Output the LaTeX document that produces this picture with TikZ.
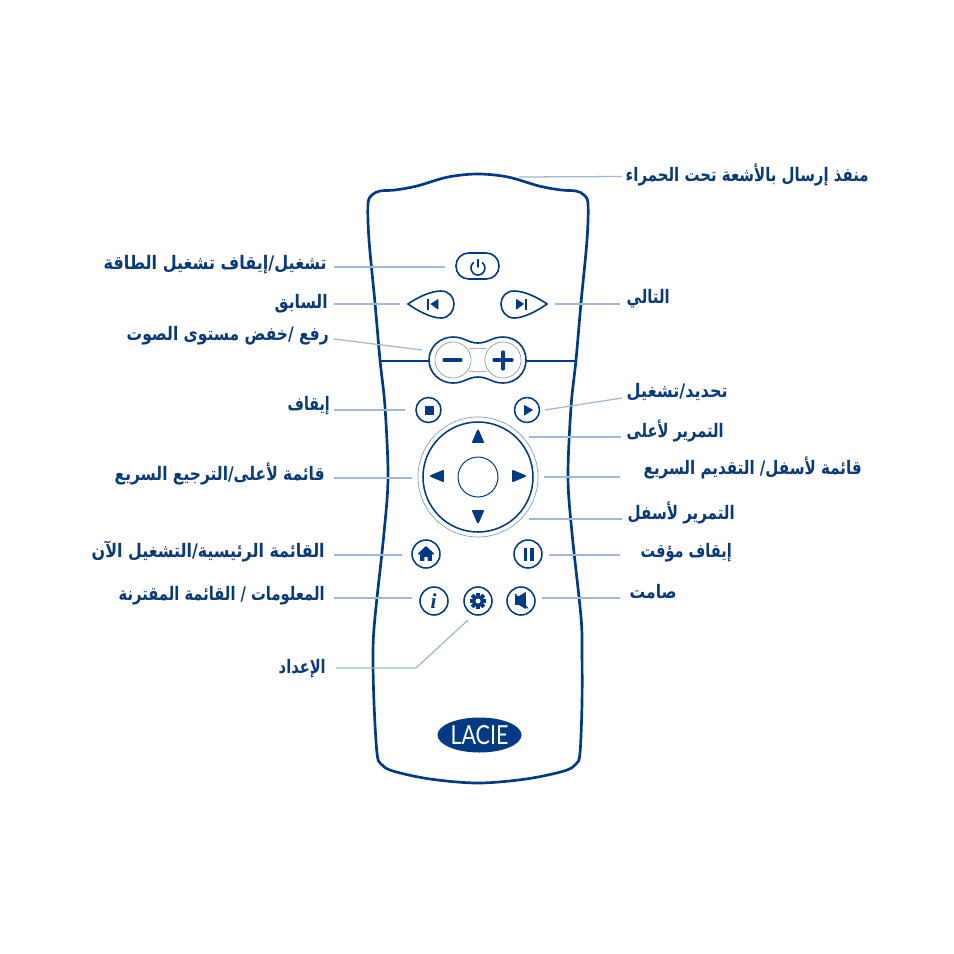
\documentclass[tikz,border=0pt]{standalone}
\usepackage{fontspec}
\usepackage{graphicx}
\usetikzlibrary{shapes.geometric}
\TeXXeTstate=1
\newfontfamily\arabicfont[Script=Arabic]{DejaVu Sans}
\newfontfamily\logofont{Lato}
\newfontfamily\infofont{Liberation Serif}
\definecolor{navy}{HTML}{003A84}
\definecolor{ink}{HTML}{0B3A7C}
\definecolor{leadc}{HTML}{A3B7D6}
\newlength{\upx}\setlength{\upx}{0.75pt}
\newcommand{\arlab}[5]{\node[lab] (#1) at (#2,#3) {\resizebox{#4\upx}{\height}{\arabicfont\bfseries #5}};}
\tikzset{
  x=0.75pt,y=-0.75pt,
  lab/.style={anchor=base east,inner sep=0pt,text=ink,font=\fontsize{14}{16}\selectfont},
  leader/.style={draw=leadc,line width=0.95pt},
  btn/.style={circle,draw=navy,line width=1.15pt,fill=white,inner sep=0pt},
  outlinec/.style={draw=navy,line width=1.2pt},
  body/.style={draw=navy,line width=2pt},
  thinring/.style={draw=navy!55!white,line width=0.45pt},
  glyph/.style={fill=navy,draw=navy,line width=0.5pt,line join=round},
}
\begin{document}
\begin{tikzpicture}
\path[fill=white] (0,0) rectangle (954,954);
\useasboundingbox (0,0) rectangle (954,954);

% remote body
\draw[body] plot[smooth cycle,tension=0.55] coordinates {
 (478,174)(448,177)(417,186)(395,190)(380,191)(372,195)(368,204)(369,240)(375,303)(380,360)(385,407)(388,477)(384,533)(375,617)(373,653)(374,703)(377,753)(381,764)(393,771)(430,779)(478,783)(526,779)(564,771)(576,764)(580,753)(582,703)(582,653)(581,617)(572,533)(568,477)(571,407)(576,360)(581,303)(587,240)(588,204)(584,195)(576,191)(561,190)(539,186)(508,177)};
\draw[outlinec,line width=1.5pt] (380,360.5) -- (429,360.5);
\draw[outlinec,line width=1.5pt] (526,360.5) -- (577,360.5);

% power
\node[rectangle,rounded corners=9.5pt,draw=navy,line width=1.2pt,minimum width=43\upx,minimum height=26\upx,inner sep=0pt] (bpower) at (477.5,266) {};
\draw[outlinec,line cap=round] (482.4,262.7) arc[start angle=-50,end angle=230,radius=7];
\draw[outlinec,line cap=round] (478,259.5) -- (478,267);

% previous / next
\draw[outlinec] (408,304) .. controls (418,297) and (431,291) .. (441,291) .. controls (449,291) and (454,297) .. (454,304) .. controls (454,311) and (449,318) .. (441,318) .. controls (431,318) and (418,311) .. (408,304) -- cycle;
\draw[outlinec] (547,304) .. controls (537,297) and (524,291) .. (514,291) .. controls (506,291) and (501,297) .. (501,304) .. controls (501,311) and (506,318) .. (514,318) .. controls (524,318) and (537,311) .. (547,304) -- cycle;
\fill[navy] (427.2,299) rectangle (429.2,309.5);
\path[glyph] (431,304) -- (438,299.5) -- (438,309) -- cycle;
\path[glyph] (523.5,304) -- (516.5,299.5) -- (516.5,309) -- cycle;
\fill[navy] (525.3,299) rectangle (527.3,309.5);

% volume
\draw[outlinec] (429,360) .. controls (429,347) and (440,337) .. (453,337) .. controls (464,337) and (468,343) .. (478,343) .. controls (488,343) and (492,337) .. (503,337) .. controls (516,337) and (526,347) .. (526,360) .. controls (526,373) and (516,383) .. (503,383) .. controls (492,383) and (488,377) .. (478,377) .. controls (468,377) and (464,383) .. (453,383) .. controls (440,383) and (429,373) .. (429,360) -- cycle;
\node[circle,thinring,minimum size=36\upx,inner sep=0pt] (bminus) at (453,360) {};
\node[circle,thinring,minimum size=36\upx,inner sep=0pt] (bplus) at (503,360) {};
\draw[thinring] (469,349) .. controls (473,348) and (483,348) .. (487,349);
\draw[thinring] (469,371) .. controls (473,372) and (483,372) .. (487,371);
\draw[navy,line width=2.5pt,line cap=round] (444,360) -- (461,360);
\draw[navy,line width=2.5pt,line cap=round] (494,360) -- (512,360);
\draw[navy,line width=2.5pt,line cap=round] (503,352) -- (503,369);

% stop / play
\node[btn,minimum size=25\upx] (bstop) at (428.5,410) {};
\fill[navy] (425,406) rectangle (434,415);
\node[btn,minimum size=25\upx] (bplay) at (527,410) {};
\path[glyph] (524.5,405.5) -- (532.5,410) -- (524.5,415) -- cycle;

% d-pad
\node[circle,draw=navy!50!white,line width=0.5pt,minimum size=120\upx,inner sep=0pt] (dpadout) at (478,477) {};
\node[btn,minimum size=110\upx] (dpad) at (478,477) {};
\node[circle,draw=navy,line width=0.75pt,minimum size=40\upx,inner sep=0pt] (dok) at (478,477) {};
\path[glyph,line width=1.4pt] (478,430.5) -- (483,442) -- (473,442) -- cycle;
\path[glyph,line width=1.4pt] (478,522.5) -- (483,511) -- (473,511) -- cycle;
\path[glyph,line width=1.4pt] (431,476) -- (443,471) -- (443,481) -- cycle;
\path[glyph,line width=1.4pt] (525,476) -- (513,471) -- (513,481) -- cycle;

% home / pause
\node[btn,minimum size=28\upx] (bhome) at (426,554) {};
\path[glyph] (426,546.5) -- (434,554) -- (431.5,554) -- (431.5,560.5) -- (428,560.5) -- (428,556.5) -- (424,556.5) -- (424,560.5) -- (420.5,560.5) -- (420.5,554) -- (418,554) -- cycle;
\node[btn,minimum size=28\upx] (bpause) at (528,554) {};
\fill[navy] (523.5,548) rectangle (527,561);
\fill[navy] (530,548) rectangle (533.5,561);

% info / setup / mute
\node[btn,minimum size=28\upx] (binfo) at (434,601) {};
\node[inner sep=0pt,text=navy,font=\infofont\bfseries\itshape\fontsize{16}{16}\selectfont] (tinfo) at (433.5,601) {i};
\node[btn,minimum size=28\upx] (bgear) at (478,601) {};
\foreach \a in {0,45,...,315}{\fill[navy,rotate around={\a:(478,601)}] (476.2,592.8) rectangle (479.8,609.2);}
\fill[navy] (478,601) circle[radius=5.7];
\fill[white] (478,601) circle[radius=2.5];
\node[btn,minimum size=28\upx] (bmute) at (521,601) {};
\path[glyph] (515.5,596.5) -- (519,596.5) -- (525.5,592.5) -- (525.5,608.5) -- (519,604.5) -- (515.5,604.5) -- cycle;
\draw[navy,line width=1pt,line cap=round] (515,594) -- (527.5,608);

% logo
\node[ellipse,fill=navy,minimum width=84\upx,minimum height=35\upx,inner sep=0pt,text=white] (logo) at (479.5,735) {\resizebox{58\upx}{19\upx}{\logofont LACIE}};

% leader end points
\coordinate (ira) at (519,177); \coordinate (irb) at (622,176.5);
\coordinate (pwa) at (334,267); \coordinate (pwb) at (445,267);
\coordinate (pra) at (334,304); \coordinate (prb) at (400,304);
\coordinate (vla) at (334,339); \coordinate (vlb) at (422,350);
\coordinate (sta) at (334,410); \coordinate (stb) at (405,410);
\coordinate (rwa) at (334,478); \coordinate (rwb) at (412,478);
\coordinate (hma) at (334,555); \coordinate (hmb) at (402,555);
\coordinate (ifa) at (334,598); \coordinate (ifb) at (412,598);
\coordinate (sea) at (336,668); \coordinate (sem) at (416,668); \coordinate (seb) at (468,620);
\coordinate (nxa) at (555,304); \coordinate (nxb) at (620,304);
\coordinate (pla) at (545,410); \coordinate (plb) at (622,398);
\coordinate (upa) at (529,437); \coordinate (upb) at (621,437);
\coordinate (ffa) at (544,477); \coordinate (ffb) at (620,477);
\coordinate (dna) at (529,519); \coordinate (dnb) at (622,519);
\coordinate (paa) at (549,555); \coordinate (pab) at (620,555);
\coordinate (mua) at (542,598); \coordinate (mub) at (620,598);
\draw[leader] (ira) -- (irb);
\draw[leader] (pwa) -- (pwb);
\draw[leader] (pra) -- (prb);
\draw[leader] (vla) -- (vlb);
\draw[leader] (sta) -- (stb);
\draw[leader] (rwa) -- (rwb);
\draw[leader] (hma) -- (hmb);
\draw[leader] (ifa) -- (ifb);
\draw[leader] (sea) -- (sem) -- (seb);
\draw[leader] (nxa) -- (nxb);
\draw[leader] (pla) -- (plb);
\draw[leader] (upa) -- (upb);
\draw[leader] (ffa) -- (ffb);
\draw[leader] (dna) -- (dnb);
\draw[leader] (paa) -- (pab);
\draw[leader] (mua) -- (mub);

% labels
\arlab{lir}{869}{181}{243}{\beginR منفذ إرسال بالأشعة تحت الحمراء\endR}
\arlab{lpw}{327}{269}{223}{\beginR تشغيل/إيقاف تشغيل الطاقة\endR}
\arlab{lpr}{328}{308}{53}{\beginR السابق\endR}
\arlab{lvl}{329}{340}{202}{\beginR رفع /خفض مستوى الصوت\endR}
\arlab{lst}{330}{410}{42}{\beginR إيقاف\endR}
\arlab{lrw}{325}{480}{210}{\beginR قائمة لأعلى/الترجيع السريع\endR}
\arlab{lhm}{325}{557}{233}{\beginR القائمة الرئيسية/التشغيل الآن\endR}
\arlab{lif}{325}{600}{206}{\beginR المعلومات / القائمة المقترنة\endR}
\arlab{lse}{326}{673}{47}{\beginR الإعداد\endR}
\arlab{lnx}{670}{303}{43}{\beginR التالي\endR}
\arlab{lpl}{728}{397}{101}{\beginR تحديد/تشغيل\endR}
\arlab{lup}{724}{437}{97}{\beginR التمرير لأعلى\endR}
\arlab{lff}{862}{474}{218}{\beginR قائمة لأسفل/ التقديم السريع\endR}
\arlab{ldn}{735}{519}{107}{\beginR التمرير لأسفل\endR}
\arlab{lpa}{732}{557}{91}{\beginR إيقاف مؤقت\endR}
\arlab{lmu}{677}{598}{47}{\beginR صامت\endR}
\end{tikzpicture}
\end{document}
